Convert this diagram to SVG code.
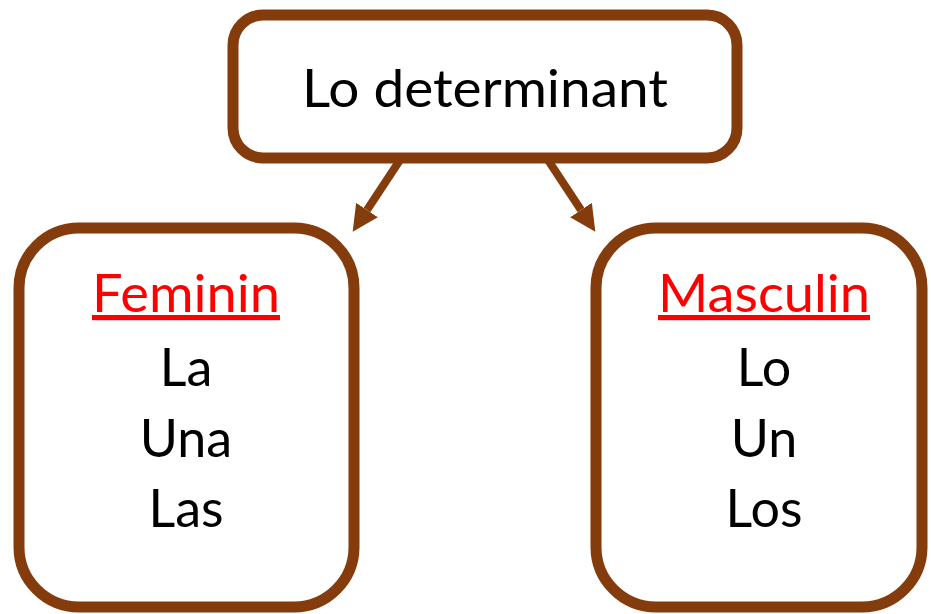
<svg xmlns="http://www.w3.org/2000/svg" width="931" height="614" viewBox="0 0 931 614">
<defs>
<style>
.box{fill:#fff;stroke:#843c0c;stroke-width:11}
.conn{stroke:#843c0c;stroke-width:8;fill:none}
.t{font-family:Lato,"Open Sans","Liberation Sans",sans-serif;font-size:52px;fill:#000;text-anchor:middle}
.h{fill:#ff0000;text-decoration:underline}
</style>
<marker id="ah" markerUnits="userSpaceOnUse" markerWidth="26" markerHeight="26" refX="0" refY="13" orient="auto" viewBox="0 0 26 26">
<path d="M0,0 L26,13 L0,26 z" fill="#843c0c"/>
</marker>
</defs>
<g id="connectors">
<line class="conn" x1="400" y1="160" x2="367" y2="210" marker-end="url(#ah)"/>
<line class="conn" x1="548" y1="160" x2="581" y2="210" marker-end="url(#ah)"/>
</g>
<g id="top">
<rect class="box" x="233" y="15" width="504" height="143" rx="30" ry="30"/>
<text class="t" x="485" y="107" textLength="366" lengthAdjust="spacingAndGlyphs">Lo determinant</text>
</g>
<g id="feminin">
<rect class="box" x="19" y="228" width="335" height="379" rx="60" ry="60"/>
<text class="t h" x="186" y="312" textLength="188" lengthAdjust="spacingAndGlyphs">Feminin</text>
<text class="t" x="186" y="386">La</text>
<text class="t" x="186" y="457">Una</text>
<text class="t" x="186" y="527">Las</text>
</g>
<g id="masculin">
<rect class="box" x="596" y="228" width="326" height="379" rx="60" ry="60"/>
<text class="t h" x="764" y="312" textLength="212" lengthAdjust="spacingAndGlyphs">Masculin</text>
<text class="t" x="764" y="386">Lo</text>
<text class="t" x="764" y="457">Un</text>
<text class="t" x="764" y="527">Los</text>
</g>
</svg>
